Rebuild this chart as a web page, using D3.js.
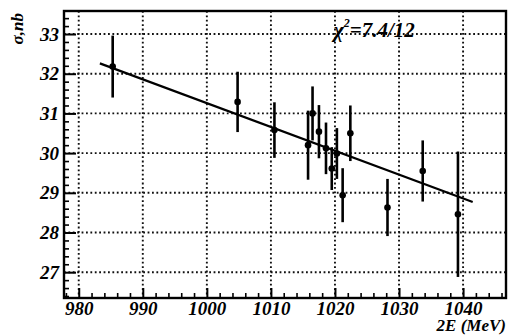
<!DOCTYPE html>
<html>
<head>
<meta charset="utf-8">
<script src="https://cdn.jsdelivr.net/npm/d3@7"></script>
<style>
  body { margin: 0; background: #fff; }
  .lbl { font-family: "Liberation Serif", "DejaVu Serif", serif; font-weight: bold; font-style: italic; }
  .domain { display: none; }
</style>
</head>
<body>
<div id="chart"></div>
<script>
// measured points (2E in MeV, cross-section in nb, error)
var energy = [985.3, 1004.8, 1010.55, 1015.8, 1016.5, 1017.5, 1018.6, 1019.5, 1020.3, 1021.2, 1022.4, 1028.2, 1033.7, 1039.2];
var sigma  = [32.18, 31.29, 30.58, 30.20, 31.00, 30.54, 30.12, 29.61, 29.99, 28.94, 30.50, 28.63, 29.55, 28.46];
var sigErr = [0.78, 0.76, 0.70, 0.87, 0.68, 0.67, 0.65, 0.54, 0.64, 0.68, 0.70, 0.72, 0.77, 1.58];

// straight-line fit end points
var fitX = [983.3, 1041.5];
var fitY = [32.26, 28.77];

var xTicks = [980, 990, 1000, 1010, 1020, 1030, 1040];
var yTicks = [27, 28, 29, 30, 31, 32, 33];
var chiText = "7.4/12";

var svgWidth = 510, svgHeight = 335;
var plot = { left: 64, right: 506, top: 11, bottom: 298 };

var svg = d3.select("#chart").append("svg")
  .attr("width", svgWidth)
  .attr("height", svgHeight);

var x = d3.scaleLinear().domain([977.7, 1046.7]).range([plot.left, plot.right]);
var y = d3.scaleLinear().domain([26.35, 33.58]).range([plot.bottom, plot.top]);

// dotted grid
svg.append("g").selectAll("line").data(xTicks).enter().append("line")
  .attr("x1", d => x(d)).attr("x2", d => x(d))
  .attr("y1", plot.top).attr("y2", plot.bottom)
  .attr("stroke", "#111").attr("stroke-width", 1.9)
  .attr("stroke-dasharray", "1.8,2.6");
svg.append("g").selectAll("line").data(yTicks).enter().append("line")
  .attr("x1", plot.left).attr("x2", plot.right)
  .attr("y1", d => y(d)).attr("y2", d => y(d))
  .attr("stroke", "#111").attr("stroke-width", 1.9)
  .attr("stroke-dasharray", "1.8,2.6");

// minor ticks
var xMinor = d3.range(978, 1047, 2).filter(v => xTicks.indexOf(v) < 0);
var yMinor = d3.range(264, 336, 2).map(v => v / 10).filter(v => yTicks.indexOf(v) < 0);

svg.append("g")
  .attr("transform", `translate(0, ${plot.bottom})`)
  .call(d3.axisBottom(x).tickValues(xMinor).tickSize(-5).tickFormat(""))
  .selectAll("line").attr("stroke", "#000").attr("stroke-width", 1.6);
svg.append("g")
  .attr("transform", `translate(${plot.left}, 0)`)
  .call(d3.axisLeft(y).tickValues(yMinor).tickSize(-5).tickFormat(""))
  .selectAll("line").attr("stroke", "#000").attr("stroke-width", 1.6);

// major ticks with labels
var xAxis = svg.append("g")
  .attr("transform", `translate(0, ${plot.bottom})`)
  .call(d3.axisBottom(x).tickValues(xTicks).tickSize(-10).tickSizeOuter(0)
    .tickPadding(4).tickFormat(d3.format("d")));
xAxis.selectAll("line").attr("stroke", "#000").attr("stroke-width", 2);
xAxis.selectAll("text").attr("class", "lbl").attr("font-size", 19).attr("fill", "#000");

var yAxis = svg.append("g")
  .attr("transform", `translate(${plot.left}, 0)`)
  .call(d3.axisLeft(y).tickValues(yTicks).tickSize(-12).tickSizeOuter(0)
    .tickPadding(5).tickFormat(d3.format("d")));
yAxis.selectAll("line").attr("stroke", "#000").attr("stroke-width", 2);
yAxis.selectAll("text").attr("class", "lbl").attr("font-size", 19).attr("fill", "#000");

// frame
svg.append("rect")
  .attr("x", plot.left).attr("y", plot.top)
  .attr("width", plot.right - plot.left).attr("height", plot.bottom - plot.top)
  .attr("fill", "none").attr("stroke", "#000").attr("stroke-width", 2.4);

// fit line
svg.append("line")
  .attr("x1", x(fitX[0])).attr("y1", y(fitY[0]))
  .attr("x2", x(fitX[1])).attr("y2", y(fitY[1]))
  .attr("stroke", "#000").attr("stroke-width", 2.2);

// error bars and points
var pts = energy.map((e, i) => ({ e: e, s: sigma[i], err: sigErr[i] }));
svg.append("g").selectAll("line").data(pts).enter().append("line")
  .attr("x1", d => x(d.e)).attr("x2", d => x(d.e))
  .attr("y1", d => y(d.s + d.err)).attr("y2", d => y(d.s - d.err))
  .attr("stroke", "#000").attr("stroke-width", 2.6);
svg.append("g").selectAll("circle").data(pts).enter().append("circle")
  .attr("cx", d => x(d.e)).attr("cy", d => y(d.s))
  .attr("r", 3.3).attr("fill", "#000");

// chi2 label
var chi = svg.append("text").attr("class", "lbl")
  .attr("x", 334).attr("y", 37).attr("font-size", 21);
chi.append("tspan").text("\u03c7");
chi.append("tspan").attr("font-size", 12).attr("dy", -10).text("2");
chi.append("tspan").attr("dy", 10).text("=" + chiText);

// axis titles
svg.append("text").attr("class", "lbl")
  .attr("transform", "translate(23, 13) rotate(-90)")
  .attr("text-anchor", "end").attr("font-size", 17)
  .text("\u03c3,nb");

svg.append("text").attr("class", "lbl")
  .attr("x", 506).attr("y", 331)
  .attr("text-anchor", "end").attr("font-size", 17)
  .text("2E (MeV)");
</script>
</body>
</html>
